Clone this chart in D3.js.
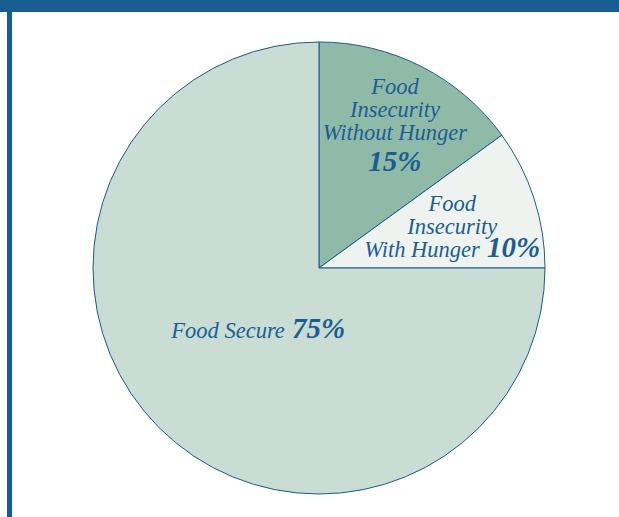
<!DOCTYPE html>
<html>
<head>
<meta charset="utf-8">
<script src="https://cdn.jsdelivr.net/npm/d3@7"></script>
<style>
  body { margin: 0; background: #fff; }
  svg { display: block; }
</style>
</head>
<body>
<div class="visContainer"></div>
<script>
// Chart data.
const categories = ['Food Insecurity Without Hunger', 'Food Insecurity With Hunger', 'Food Secure'];
const values = [15, 10, 75];
const labelLines = [['Food', 'Insecurity', 'Without Hunger'], ['Food', 'Insecurity', 'With Hunger'], ['Food Secure']];
const colors = ['#8fbaa8', '#eef3f0', '#c9ddd4'];

const width = 619;
const height = 517;
const cx = 319, cy = 268, radius = 226;
const textColor = '#1c5d92';
const fontFamily = '"Liberation Serif", "DejaVu Serif", serif';

const svg = d3.select('.visContainer')
              .append('svg')
              .attr('width', width)
              .attr('height', height);

// Frame: top band and left bar.
svg.append('rect').attr('x', 0).attr('y', 0).attr('width', width).attr('height', 12).attr('fill', '#175d8f');
svg.append('rect').attr('x', 7).attr('y', 0).attr('width', 5).attr('height', height).attr('fill', '#175d8f');

const pie = d3.pie().sort(null).value(d => d);
const arcs = pie(values);
const arc = d3.arc().innerRadius(0).outerRadius(radius);

const g = svg.append('g').attr('transform', `translate(${cx},${cy})`);

g.selectAll('path')
 .data(arcs)
 .enter()
 .append('path')
 .attr('d', arc)
 .attr('fill', (d, i) => colors[i])
 .attr('stroke', '#1d5a8c')
 .attr('stroke-width', 1);

// Label positions along each slice's middle angle.
const labelRadius = [0.74, 0.62, 0.38];
const lineHeight = 23;

arcs.forEach((d, i) => {
    const mid = (d.startAngle + d.endAngle) / 2;
    const r = radius * labelRadius[i];
    const x = Math.sin(mid) * r;
    const y = -Math.cos(mid) * r;
    const lines = labelLines[i];
    const pctOwnLine = i === 0;
    const nLines = lines.length + (pctOwnLine ? 1 : 0);
    const top = y - (nLines - 1) * lineHeight / 2 + 9;

    const text = g.append('text')
        .attr('text-anchor', 'middle')
        .attr('font-family', fontFamily)
        .attr('font-style', 'italic')
        .attr('font-size', 22.5)
        .attr('fill', textColor);

    lines.forEach((line, j) => {
        text.append('tspan')
            .attr('x', x)
            .attr('y', top + j * lineHeight)
            .text(line);
        if (!pctOwnLine && j === lines.length - 1) {
            text.append('tspan')
                .attr('font-size', 29)
                .attr('font-weight', 'bold')
                .text(' ' + values[i] + '%');
        }
    });
    if (pctOwnLine) {
        text.append('tspan')
            .attr('x', x)
            .attr('y', top + lines.length * lineHeight + 8)
            .attr('font-size', 29)
            .attr('font-weight', 'bold')
            .text(values[i] + '%');
    }
});
</script>
</body>
</html>
